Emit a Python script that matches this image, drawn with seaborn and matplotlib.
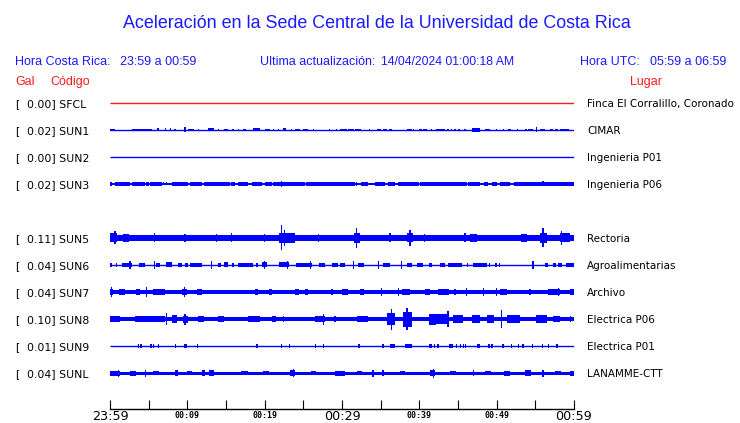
import matplotlib
matplotlib.use("Agg")
import matplotlib.pyplot as plt
import seaborn as sns

sns.set_theme(style="white")
plt.rcParams['font.family'] = ['DejaVu Sans']

# ---------- data ----------
title = "Aceleración en la Sede Central de la Universidad de Costa Rica"
hora_cr = "23:59 a 00:59"
hora_utc = "05:59 a 06:59"
actualizacion = "14/04/2024 01:00:18 AM"

# station order (SUN4 is missing, its row stays empty)
codes = ["SFCL", "SUN1", "SUN2", "SUN3", "SUN4", "SUN5", "SUN6", "SUN7", "SUN8", "SUN9", "SUNL"]
gal = {"SFCL": 0.00, "SUN1": 0.02, "SUN2": 0.00, "SUN3": 0.02, "SUN5": 0.11,
       "SUN6": 0.04, "SUN7": 0.04, "SUN8": 0.10, "SUN9": 0.01, "SUNL": 0.04}
lugar = {"SFCL": "Finca El Corralillo, Coronado", "SUN1": "CIMAR", "SUN2": "Ingenieria P01",
         "SUN3": "Ingenieria P06", "SUN5": "Rectoria", "SUN6": "Agroalimentarias",
         "SUN7": "Archivo", "SUN8": "Electrica P06", "SUN9": "Electrica P01",
         "SUNL": "LANAMME-CTT"}

# half width of the background trace band
base = {"SFCL": 0.0, "SUN1": 0.5, "SUN2": 0.5, "SUN3": 1.1, "SUN5": 2.8,
        "SUN6": 0.8, "SUN7": 1.8, "SUN8": 1.8, "SUN9": 0.6, "SUNL": 1.5}

# bursts: (minute start, minute end, half amplitude)
bursts = {
    "SUN1": [(0, 0.7, 1.3), (2.8, 5.4, 1.4), (6.2, 6.2, 1.5), (7.2, 7.2, 1.5), (7.8, 7.8, 1.5),
             (8.4, 8.4, 1.3), (9.7, 9.7, 2.5), (10.1, 10.8, 1.3), (11.4, 11.4, 1.3), (12.7, 13.4, 1.5),
             (14.0, 14.0, 1.3), (14.7, 15.3, 1.4), (15.9, 15.9, 1.3), (16.6, 16.6, 1.3), (17.2, 17.6, 1.3),
             (18.5, 19.4, 1.5), (20.0, 20.7, 1.3), (21.1, 21.1, 1.3), (21.8, 21.8, 1.3), (22.4, 22.8, 1.5),
             (23.5, 23.5, 1.3), (23.9, 24.6, 1.4), (25.0, 25.6, 1.4), (26.3, 26.3, 1.3), (28.4, 28.4, 1.3),
             (29.3, 29.3, 1.3), (29.7, 30.6, 1.4), (30.8, 31.5, 1.3), (31.7, 32.5, 1.4), (33.6, 33.6, 1.3),
             (34.5, 35.1, 1.4), (35.3, 35.8, 1.3), (36.2, 36.2, 1.3), (36.4, 36.4, 1.3), (38.4, 39.0, 1.3),
             (39.2, 39.2, 1.3), (39.9, 40.3, 1.4), (40.5, 41.0, 1.4), (41.6, 41.6, 1.3), (42.2, 43.3, 1.4),
             (43.7, 43.7, 1.3), (44.2, 44.2, 1.3), (44.6, 44.6, 1.3), (45.0, 45.3, 1.3), (45.9, 45.9, 1.3),
             (46.8, 47.8, 1.6), (48.5, 49.1, 1.4), (50.0, 50.0, 1.3), (50.9, 50.9, 1.3), (51.5, 51.9, 1.3),
             (52.6, 52.8, 1.3), (53.7, 53.9, 1.3), (54.1, 54.7, 1.3), (55.2, 55.2, 2.5), (55.6, 56.3, 1.4),
             (56.9, 57.3, 1.3), (57.5, 57.9, 1.3), (58.2, 59.3, 1.4)],
    "SUN3": [(0, 0.3, 1.6), (0.65, 2.6, 1.6), (2.8, 4.5, 1.6), (4.7, 5.0, 1.6), (5.2, 6.7, 1.6),
             (6.9, 6.9, 1.5), (7.3, 7.3, 1.5), (8.0, 10.1, 1.6), (10.3, 11.9, 1.6), (12.1, 15.5, 1.6),
             (15.7, 16.2, 1.6), (16.6, 17.9, 1.6), (18.3, 19.6, 1.6), (20.0, 20.9, 1.6), (21.1, 25.2, 1.6),
             (22.2, 22.2, 2.7), (25.4, 31.7, 1.6), (31.9, 31.9, 2.4), (32.5, 33.4, 1.6), (34.3, 35.6, 1.6),
             (36.0, 36.9, 1.6), (37.3, 39.9, 1.6), (40.1, 46.1, 1.7), (46.3, 47.8, 1.6), (48.3, 48.9, 1.6),
             (49.4, 50.0, 1.6), (50.4, 51.7, 1.6), (52.3, 55.6, 1.6), (56.0, 56.0, 2.5), (55.6, 60, 1.6)],
    "SUN5": [(0, 0.9, 4.5), (0.65, 0.65, 6.5), (1.7, 2.4, 4.0), (5.8, 5.8, 4.5), (9.7, 9.7, 4.0),
             (13.8, 13.8, 4.0), (15.7, 15.7, 4.5), (20.0, 20.0, 4.0), (21.8, 23.9, 5.0), (22.2, 22.2, 12.5),
             (22.6, 22.6, 8), (27.0, 27.0, 4.0), (31.5, 32.3, 5.0), (31.9, 31.9, 10), (36.2, 36.2, 4.5),
             (38.4, 39.2, 4.5), (38.8, 38.8, 8), (40.7, 40.7, 4.0), (45.9, 45.9, 4.5), (46.5, 47.4, 3.8),
             (53.2, 53.9, 3.8), (55.6, 56.5, 5.0), (56.0, 56.0, 9.5), (58.2, 59.5, 4.5), (58.4, 58.4, 7)],
    "SUN6": [(0, 0.3, 2.3), (0.86, 0.86, 2), (1.5, 2.8, 2.4), (2.6, 2.6, 4.3), (3.7, 4.5, 2.3),
             (5.8, 5.8, 4.3), (6.0, 6.5, 2.3), (7.3, 8.0, 2.5), (8.8, 9.3, 2.0), (9.7, 10.1, 2.0),
             (10.3, 11.9, 2.0), (13.1, 13.1, 4.3), (14.0, 14.4, 2.3), (14.7, 15.3, 2.5), (15.9, 15.9, 2),
             (16.6, 18.5, 2.3), (19.0, 19.0, 2), (19.6, 20.3, 2.5), (20.0, 20.0, 4.3), (21.8, 23.1, 2.5),
             (23.0, 23.0, 4.3), (24.1, 26.1, 2.3), (25.9, 25.9, 4.3), (27.0, 27.8, 2.3), (28.7, 29.5, 2.3),
             (29.7, 30.4, 2.0), (31.5, 31.5, 4), (32.1, 32.8, 2.3), (34.7, 34.7, 4), (35.3, 36.2, 2.3),
             (37.7, 37.7, 4), (38.4, 39.0, 2.3), (39.7, 40.5, 2.3), (41.2, 41.6, 2.0), (42.7, 43.3, 2.0),
             (43.7, 45.5, 2.3), (46.1, 46.3, 2.0), (46.9, 48.7, 2.3), (49.1, 49.1, 2.0), (49.8, 50.0, 2.0),
             (50.4, 50.4, 2.0), (54.7, 54.7, 4), (56.2, 56.6, 2.3), (57.3, 57.7, 2.3), (57.9, 58.4, 2.3),
             (59.0, 60, 2.3)],
    "SUN7": [(0, 0.4, 2.8), (0.2, 0.2, 4.5), (1.1, 1.9, 2.6), (3.4, 3.9, 2.8), (4.7, 4.7, 4.5),
             (5.6, 7.1, 2.6), (9.3, 9.9, 3.0), (9.6, 9.6, 4.5), (11.2, 11.9, 2.6), (18.7, 19.2, 3.0),
             (20.5, 20.9, 2.6), (23.9, 24.4, 2.6), (25.2, 25.6, 2.8), (28.7, 28.7, 2.7), (30.0, 30.8, 2.8),
             (32.3, 32.8, 2.6), (35.1, 35.1, 4.2), (37.3, 37.3, 4.2), (37.7, 38.8, 2.6), (40.7, 41.4, 2.6),
             (42.4, 43.9, 2.6), (44.6, 44.6, 3.0), (46.1, 46.1, 3.5), (48.3, 48.3, 3.5), (50.0, 50.0, 4.2),
             (50.4, 51.3, 2.6), (54.3, 54.3, 3.0), (56.6, 58.2, 2.8), (58.0, 58.0, 4.2), (59.5, 60, 2.8)],
    "SUN8": [(0, 1.3, 3.0), (3.2, 5.0, 3.2), (5.0, 7.1, 3.4), (7.3, 7.3, 5.8), (8.0, 8.6, 3.8),
             (9.5, 10.1, 3.5), (9.7, 9.7, 5.5), (11.4, 12.1, 3.2), (14.0, 14.7, 3.2), (17.9, 19.4, 2.8),
             (20.9, 21.5, 3.0), (22.4, 22.4, 3.2), (26.5, 27.8, 3.2), (27.6, 27.6, 5.5), (29.1, 29.1, 3.2),
             (31.9, 33.4, 2.7), (35.8, 36.9, 6.0), (36.4, 36.4, 10.5), (37.9, 39.0, 7.5), (38.4, 38.4, 11),
             (41.2, 42.2, 5.5), (42.2, 43.9, 5.0), (43.7, 43.7, 8), (44.4, 45.6, 4.0), (46.8, 47.8, 3.6),
             (48.7, 49.6, 3.6), (50.6, 50.6, 9), (51.3, 53.0, 4.0), (55.1, 56.5, 3.6), (57.3, 58.2, 3.2),
             (59.5, 59.5, 3.2)],
    "SUN9": [(3.7, 3.7, 1.6), (4.0, 4.0, 1.6), (5.3, 5.3, 1.6), (5.6, 5.6, 1.6), (6.3, 6.3, 1.6),
             (8.5, 8.5, 1.6), (9.6, 10.0, 1.6), (11.3, 11.3, 1.6), (19.0, 19.0, 1.6), (22.2, 22.2, 1.6),
             (23.2, 23.2, 1.6), (26.6, 26.6, 1.6), (27.5, 27.7, 1.6), (32.2, 32.2, 1.6), (35.3, 35.3, 1.6),
             (36.2, 36.9, 1.8), (38.1, 39.0, 1.8), (41.2, 41.7, 1.8), (42.0, 42.0, 1.6), (42.4, 42.4, 1.6),
             (43.9, 44.4, 1.7), (44.8, 44.8, 1.6), (45.3, 45.3, 1.6), (45.7, 45.7, 1.6), (46.0, 46.0, 1.6),
             (47.4, 47.8, 1.7), (49.0, 49.0, 1.6), (49.4, 49.4, 1.6), (50.7, 50.9, 1.7), (51.9, 51.9, 1.6),
             (52.8, 52.8, 1.6), (53.4, 53.4, 1.6), (54.6, 54.6, 1.6), (55.9, 55.9, 1.6), (56.7, 56.7, 1.6),
             (57.8, 57.8, 1.6)],
    "SUNL": [(0, 1.3, 2.5), (1.1, 1.1, 3.5), (2.6, 3.4, 2.5), (4.6, 4.6, 3.5), (5.6, 6.4, 2.4),
             (8.4, 8.8, 2.8), (10.0, 10.6, 2.4), (11.9, 12.3, 2.6), (12.8, 13.5, 2.8), (17.0, 17.8, 2.4),
             (19.8, 20.5, 2.4), (23.3, 23.9, 2.8), (23.7, 23.7, 4.0), (26.0, 26.6, 2.4), (29.1, 30.4, 2.5),
             (32.0, 32.6, 2.4), (34.0, 34.0, 3.5), (35.3, 35.3, 3.0), (37.5, 38.2, 2.4), (41.4, 42.0, 2.8),
             (41.8, 41.8, 4.5), (44.0, 44.8, 2.4), (47.0, 47.0, 2.7), (48.5, 49.3, 2.4), (50.9, 51.7, 2.5),
             (53.7, 54.5, 2.7), (56.0, 56.0, 3.5), (57.5, 58.3, 2.4), (59.5, 60, 2.5)],
}

minutes = list(range(0, 61, 5))
tick_labels = ["23:59", "", "00:09", "", "00:19", "", "00:29", "", "00:39", "", "00:49", "", "00:59"]
big_ticks = ["23:59", "00:29", "00:59"]

# ---------- drawing ----------
W, H = 740, 423
blue = "#0000ff"
txt_blue = "#1a1aff"
red = "#ff1a1a"
ROW = 27  # row spacing in trace units (one unit ~ one pixel)

fig = plt.figure(figsize=(W / 100, H / 100), dpi=100)
ax = fig.add_axes([110 / W, (H - 409) / H, 464 / W, (409 - 88) / H])


def put(x, y, s, **kw):
    kw.setdefault("va", "center")
    fig.text(x / W, 1 - y / H, s, **kw)


for i, code in enumerate(codes):
    if code not in gal:
        continue
    yc = i * ROW
    col = red if code == "SFCL" else blue
    b = base[code]
    if b <= 0.8:
        ax.plot([0, 60], [yc, yc], color=col, lw=1.0, solid_capstyle="butt")
    else:
        ax.fill_between([0, 60], yc - b, yc + b, color=col, lw=0)
    for t0, t1, h in bursts.get(code, []):
        if t1 - t0 < 0.15:
            t0, t1 = t0 - 0.08, t1 + 0.08
        ax.fill_between([t0, t1], yc - h, yc + h, color=col, lw=0)

    ypx = 104 + yc
    put(15, ypx, "[", fontsize=7.8, color="black")
    put(27, ypx, f"{gal[code]:.2f}] {code}", fontsize=7.8, color="black")
    put(587, ypx, lugar[code], fontsize=7.5, color="black")

ax.set_xlim(0, 60)
ax.set_ylim(306, -15)
ax.set_yticks([])
ax.set_xticks(minutes)
# large hour labels as tick labels, small ones as annotations
ax.set_xticklabels([lab if lab in big_ticks else "" for lab in tick_labels], fontsize=9.2)
for m, lab in zip(minutes, tick_labels):
    if lab and lab not in big_ticks:
        ax.annotate(lab, xy=(m, 0), xycoords=("data", "axes fraction"),
                    xytext=(0, -4.7), textcoords="offset points", ha="center", va="center",
                    fontsize=6, family="DejaVu Sans Mono", fontweight="bold", color="black",
                    annotation_clip=False)
ax.tick_params(axis="x", direction="in", length=6.5, width=0.8, color="black",
               labelcolor="black", pad=0.5, bottom=True)
sns.despine(ax=ax, left=True, top=True, right=True)
ax.spines["bottom"].set_color("black")
ax.spines["bottom"].set_linewidth(1.0)
ax.set_facecolor("white")

# headers
sans = "Liberation Sans"
put(377, 24, title, ha="center", fontsize=12.9, color=txt_blue, family=sans)
put(15, 62, "Hora Costa Rica:", fontsize=9, color=txt_blue, family=sans)
put(120, 62, hora_cr, fontsize=9, color=txt_blue, family=sans)
put(260, 62, "Ultima actualización:", fontsize=9, color=txt_blue, family=sans)
put(381, 62, actualizacion, fontsize=8.8, color=txt_blue, family=sans)
put(580, 62, "Hora UTC:", fontsize=9, color=txt_blue, family=sans)
put(650, 62, hora_utc, fontsize=9, color=txt_blue, family=sans)
put(15, 82, "Gal", fontsize=9, color=red, family=sans)
put(50, 82, "Código", fontsize=9, color=red, family=sans)
put(630, 82, "Lugar", fontsize=9, color=red, family=sans)

fig.savefig("out.png", dpi=100, facecolor="white")
